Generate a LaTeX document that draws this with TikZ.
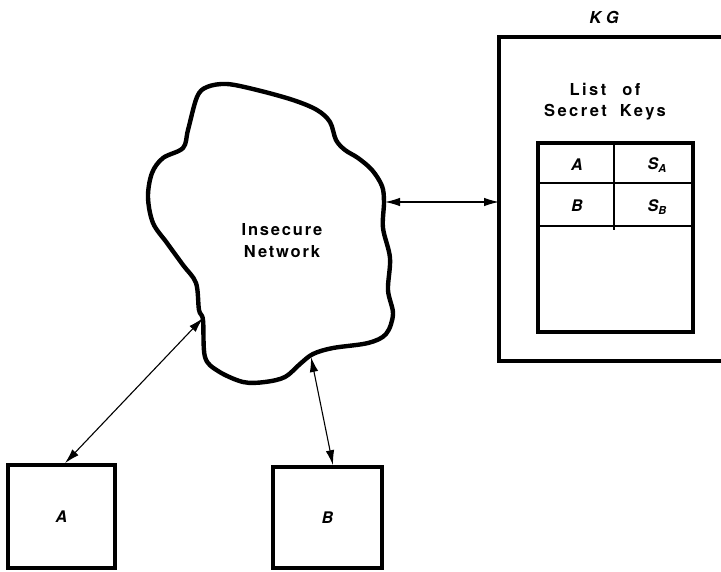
\documentclass[tikz,border=0pt]{standalone}
\usepackage{fontspec}
\setmainfont{TeX Gyre Heros}
\usetikzlibrary{arrows.meta}
\tikzset{
  thick box/.style={draw, line width=3.6pt, inner sep=0pt},
  cloudline/.style={line width=4.4pt, line join=round},
  link/.style={line width=1.1pt, {Latex[length=15pt,width=8.5pt]}-{Latex[length=15pt,width=8.5pt]}},
  lbl/.style={font=\fontsize{16.5}{19}\selectfont\bfseries\addfontfeature{LetterSpace=11}, align=center, inner sep=0pt},
  itl/.style={font=\fontsize{16}{18}\selectfont\bfseries\itshape, inner sep=0pt},
}
\begin{document}
\begin{tikzpicture}[x=1pt,y=-1pt]
\useasboundingbox (0,0) rectangle (721,572);
% cloud
\draw[cloudline] plot[smooth cycle, tension=0.55] coordinates {
 (207,87) (227,84) (257,90) (293,100) (317,110) (330,122) (336,140) (345,150)
 (358,158) (372,170) (382,186) (384,202) (383,228) (390,258) (388,290) (393,314)
 (386,334) (368,343) (333,348) (313,354) (300,364) (285,377) (265,382) (243,382)
 (218,371) (205,357) (203,320) (199,310) (196,283) (183,265) (167,243) (153,223)
 (148,197) (152,173) (163,158) (183,148) (188,130) (197,97)};
\coordinate (cK) at (385,202);
\coordinate (cA) at (203,318);
\coordinate (cB) at (311,357);
\node[lbl] (net) at (282,241) {Insecure\\[3pt]Network};
% KG box (cut at right edge)
\draw[line width=3.6pt] (725,37) -- (499,37) -- (499,361) -- (725,361);
\coordinate (kgL) at (499,202);
\node[itl, font=\fontsize{16.5}{19}\selectfont\bfseries\itshape] (kg) at (604,17) {K G};
\node[lbl, font=\fontsize{16.5}{19}\selectfont\bfseries\addfontfeature{LetterSpace=15}] (list) at (605,102) {List\hspace{16pt}of\\[2pt]Secret\hspace{13pt}Keys};
% table
\node[thick box, minimum width=155pt, minimum height=189pt] (tab) at (615.5,237.5) {};
\draw[line width=1.4pt] (tab.west |- 0,183) -- (tab.east |- 0,183);
\draw[line width=1.4pt] (tab.west |- 0,226) -- (tab.east |- 0,226);
\draw[line width=1.4pt] (614,0 |- tab.north) -- (614,230);
\node[itl] (ta) at (577,165) {A};
\node[itl] (tsa) at (653,165) {S\rlap{\raisebox{-3pt}{\fontsize{11}{12}\selectfont A}}};
\node[itl] (tb) at (577,206) {B};
\node[itl] (tsb) at (653,207) {S\rlap{\raisebox{-3pt}{\fontsize{11}{12}\selectfont B}}};
% boxes A and B
\node[thick box, minimum width=107pt, minimum height=103pt, font=\fontsize{16}{18}\selectfont\bfseries\itshape] (boxA) at (61.5,516.5) {A};
\node[thick box, minimum width=109pt, minimum height=101pt, font=\fontsize{16}{18}\selectfont\bfseries\itshape] (boxB) at (327.5,517.5) {B};
% links
\draw[link] (cK) -- (kgL);
\draw[link] (cA) -- (boxA.north -| 65,0);
\draw[link] (cB) -- (boxB.north -| 333,0);
\end{tikzpicture}
\end{document}
